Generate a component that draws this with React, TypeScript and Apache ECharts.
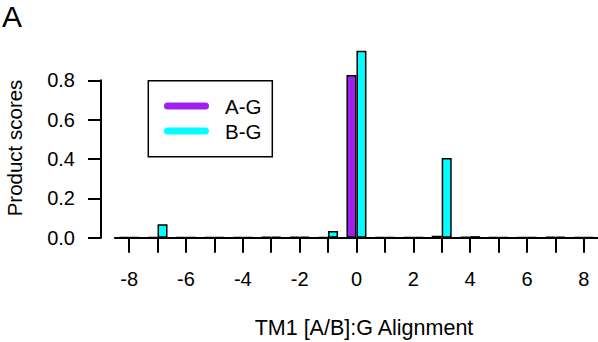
import React, { useEffect, useRef } from "react";
import * as echarts from "echarts";

// Alignment offsets (TM1 helix register) and product scores per pairing
const offsets = [-8, -7, -6, -5, -4, -3, -2, -1, 0, 1, 2, 3, 4, 5, 6, 7, 8];
const scoresAG = [0.003, 0.003, 0.003, 0.003, 0.003, 0.004, 0.004, 0.003, 0.827, 0.003, 0.003, 0.01, 0.005, 0.003, 0.003, 0.004, 0.003];
const scoresBG = [0.003, 0.068, 0.003, 0.003, 0.003, 0.004, 0.005, 0.034, 0.95, 0.003, 0.003, 0.405, 0.008, 0.003, 0.003, 0.005, 0.003];
const yTicks = [0, 0.2, 0.4, 0.6, 0.8];
const seriesNames = ["A-G", "B-G"];
const seriesColors = ["#A020F0", "#00FFFF"];

const FONT = "'Liberation Sans', Arial, Helvetica, sans-serif";

export default function App() {
  const ref = useRef<HTMLDivElement>(null);

  useEffect(() => {
    if (!ref.current) return;
    const chart = echarts.init(ref.current, undefined, { renderer: "svg" });

    const barStyle = (color: string) => ({
      color,
      borderColor: "#000",
      borderWidth: 1.5,
    });

    chart.setOption({
      animation: false,
      backgroundColor: "#fff",
      textStyle: { fontFamily: FONT },
      grid: [
        { left: 114.9, width: 488.75, top: 40.95, height: 196.75 },
        { left: 101, width: 10, top: 80.3, height: 157.4 },
      ],
      xAxis: [
        {
          type: "category",
          gridIndex: 0,
          data: offsets.map(String),
          boundaryGap: true,
          axisLine: { show: true, onZero: true, lineStyle: { color: "#000", width: 2 } },
          axisTick: { show: true, alignWithLabel: true, interval: 0, length: 15, lineStyle: { color: "#000", width: 2 } },
          axisLabel: { interval: 1, margin: 31, color: "#000", fontSize: 20, fontFamily: FONT },
          splitLine: { show: false },
        },
        { type: "value", gridIndex: 1, show: false, min: 0, max: 1 },
      ],
      yAxis: [
        { type: "value", gridIndex: 0, show: false, min: 0, max: 1 },
        {
          type: "value",
          gridIndex: 1,
          min: yTicks[0],
          max: yTicks[yTicks.length - 1],
          interval: 0.2,
          axisLine: { show: true, lineStyle: { color: "#000", width: 2 } },
          axisTick: { show: true, length: 13, lineStyle: { color: "#000", width: 2 } },
          axisLabel: {
            margin: 26,
            color: "#000",
            fontSize: 20,
            fontFamily: FONT,
            formatter: (v: number) => v.toFixed(1),
          },
          splitLine: { show: false },
        },
      ],
      series: [
        {
          name: seriesNames[0],
          type: "bar",
          xAxisIndex: 0,
          yAxisIndex: 0,
          data: scoresAG,
          barWidth: 10,
          barGap: "0%",
          itemStyle: barStyle(seriesColors[0]),
        },
        {
          name: seriesNames[1],
          type: "bar",
          xAxisIndex: 0,
          yAxisIndex: 0,
          data: scoresBG,
          barWidth: 10,
          barGap: "0%",
          itemStyle: barStyle(seriesColors[1]),
        },
      ],
      graphic: [
        {
          type: "text",
          left: 2,
          top: 1,
          style: { text: "A", font: `30px ${FONT}`, fill: "#000" },
        },
        {
          type: "text",
          x: 14,
          y: 148,
          rotation: Math.PI / 2,
          style: {
            text: "Product scores",
            font: `20.5px ${FONT}`,
            fill: "#000",
            align: "center",
            verticalAlign: "middle",
          },
        },
        {
          type: "text",
          x: 364,
          y: 328,
          style: {
            text: "TM1 [A/B]:G Alignment",
            font: `21.5px ${FONT}`,
            fill: "#000",
            align: "center",
            verticalAlign: "middle",
          },
        },
        {
          type: "rect",
          shape: { x: 148.3, y: 80.7, width: 124, height: 76 },
          style: { fill: "none", stroke: "#000", lineWidth: 1.5 },
        },
        ...seriesNames.flatMap((name, i) => [
          {
            type: "line",
            shape: { x1: 167.5, y1: 106 + i * 25, x2: 205.5, y2: 106 + i * 25 },
            style: { stroke: seriesColors[i], lineWidth: 7, lineCap: "round" },
          },
          {
            type: "text",
            x: 225,
            y: 106 + i * 25,
            style: {
              text: name,
              font: `20.5px ${FONT}`,
              fill: "#000",
              verticalAlign: "middle",
            },
          },
        ]),
      ],
    });

    return () => chart.dispose();
  }, []);

  return (
    <div
      ref={ref}
      style={{ position: "absolute", left: 0, top: 0, width: 598, height: 342 }}
    />
  );
}
